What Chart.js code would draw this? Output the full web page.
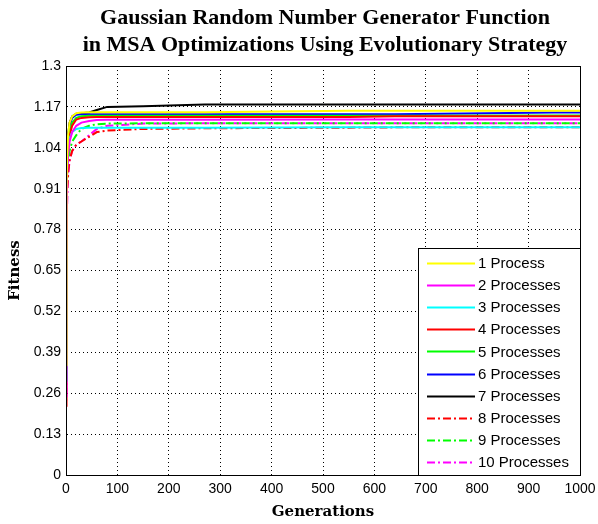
<!DOCTYPE html>
<html>
<head>
<meta charset="utf-8">
<script src="https://cdn.jsdelivr.net/npm/chart.js@4.4.1/dist/chart.umd.min.js"></script>
<style>
  html, body { margin: 0; padding: 0; background: #fff; }
  #wrap { width: 598px; height: 524px; }
</style>
</head>
<body>
<div id="wrap"><canvas id="chart" width="598" height="524"></canvas></div>
<script>
// Data

const gens = [0, 1, 2, 4, 7, 12, 20, 30, 45, 60, 80, 150, 270, 550, 640, 950, 1000];

const fit1  = [0.35, 0.90, 1.00, 1.08, 1.12, 1.14, 1.150, 1.152, 1.153, 1.153, 1.153, 1.153, 1.153, 1.158, 1.158, 1.158, 1.158];
const fit2  = [0.25, 0.70, 0.95, 1.02, 1.06, 1.09, 1.110, 1.120, 1.125, 1.128, 1.129, 1.129, 1.129, 1.130, 1.130, 1.130, 1.130];
const fit3  = [0.30, 0.80, 0.97, 1.04, 1.07, 1.09, 1.100, 1.103, 1.104, 1.104, 1.104, 1.104, 1.104, 1.105, 1.105, 1.105, 1.105];
const fit4  = [0.22, 0.75, 0.95, 1.03, 1.08, 1.11, 1.130, 1.135, 1.137, 1.138, 1.138, 1.138, 1.138, 1.138, 1.140, 1.140, 1.140];
const fit5  = [0.30, 0.85, 0.98, 1.05, 1.09, 1.12, 1.135, 1.140, 1.142, 1.142, 1.142, 1.142, 1.142, 1.142, 1.142, 1.143, 1.143];
const fit6  = [0.35, 0.90, 1.00, 1.07, 1.11, 1.135, 1.145, 1.147, 1.147, 1.147, 1.147, 1.147, 1.147, 1.147, 1.147, 1.152, 1.152];
const fit7  = [0.40, 0.95, 1.02, 1.08, 1.12, 1.14, 1.148, 1.150, 1.152, 1.160, 1.170, 1.172, 1.178, 1.178, 1.178, 1.178, 1.178];
const fit8  = [0.20, 0.60, 0.90, 0.96, 1.00, 1.03, 1.050, 1.060, 1.075, 1.090, 1.095, 1.100, 1.102, 1.104, 1.105, 1.105, 1.105];
const fit9  = [0.25, 0.70, 0.92, 0.99, 1.03, 1.06, 1.080, 1.100, 1.110, 1.115, 1.117, 1.118, 1.118, 1.118, 1.118, 1.118, 1.118];
const fit10 = [0.20, 0.55, 0.85, 0.95, 1.00, 1.03, 1.050, 1.060, 1.080, 1.100, 1.110, 1.117, 1.118, 1.118, 1.118, 1.118, 1.118];

const labels = ["1 Process", "2 Processes", "3 Processes", "4 Processes", "5 Processes",
                "6 Processes", "7 Processes", "8 Processes", "9 Processes", "10 Processes"];

const yTicks = [0, 0.13, 0.26, 0.39, 0.52, 0.65, 0.78, 0.91, 1.04, 1.17, 1.3];
const xTicks = [0, 100, 200, 300, 400, 500, 600, 700, 800, 900, 1000];

const titleLines = ["Gaussian Random Number Generator Function",
                    "in MSA Optimizations Using Evolutionary Strategy"];

const series = [fit1, fit2, fit3, fit4, fit5, fit6, fit7, fit8, fit9, fit10];
const colors = ["#ffff00", "#ff00ff", "#00ffff", "#ff0000", "#00ff00",
                "#0000ff", "#000000", "#ff0000", "#00ff00", "#ff00ff"];
const dashDot = [8, 3, 2, 3];

function toPoints(vals) {
    return vals.map((v, i) => ({ x: gens[i], y: v }));
}

// title centred over the plot, like matlab does
const plotTitle = {
    id: "plotTitle",
    afterDraw(chart) {
        const a = chart.chartArea;
        const ctx = chart.ctx;
        const cx = (a.left + a.right) / 2 + 2;
        ctx.save();
        ctx.fillStyle = "#000";
        ctx.font = "bold 22px 'Liberation Serif', 'Times New Roman', serif";
        ctx.textAlign = "center";
        ctx.textBaseline = "middle";
        ctx.fillText(titleLines[0], cx, 18);
        ctx.fillText(titleLines[1], cx, 45);
        ctx.restore();
    }
};

// draws the box round the plot
const framePlugin = {
    id: "frame",
    afterDatasetsDraw(chart) {
        const a = chart.chartArea;
        const ctx = chart.ctx;
        ctx.save();
        ctx.strokeStyle = "#000";
        ctx.lineWidth = 1;
        ctx.setLineDash([]);
        ctx.strokeRect(Math.round(a.left) + 0.5, Math.round(a.top) + 0.5,
                       Math.round(a.right - a.left), Math.round(a.bottom - a.top));
        ctx.restore();
    }
};

// legend box inside the plot, lower right
const boxLegend = {
    id: "boxLegend",
    afterDraw(chart) {
        const ctx = chart.ctx;
        const a = chart.chartArea;
        const left = 418, top = 248, right = Math.round(a.right), bottom = Math.round(a.bottom);
        ctx.save();
        ctx.fillStyle = "#fff";
        ctx.fillRect(left, top, right - left, bottom - top);
        ctx.strokeStyle = "#000";
        ctx.lineWidth = 1;
        ctx.setLineDash([]);
        ctx.strokeRect(left + 0.5, top + 0.5, right - left, bottom - top);
        ctx.font = "15px 'Liberation Sans', Arial, sans-serif";
        ctx.textBaseline = "middle";
        chart.data.datasets.forEach((ds, i) => {
            const y = 263 + i * 22.1;
            ctx.strokeStyle = ds.borderColor;
            ctx.lineWidth = 2;
            ctx.setLineDash(ds.borderDash || []);
            ctx.beginPath();
            ctx.moveTo(427, Math.round(y) + 0.5);
            ctx.lineTo(475, Math.round(y) + 0.5);
            ctx.stroke();
            ctx.setLineDash([]);
            ctx.fillStyle = "#000";
            ctx.fillText(ds.label, 478, y + 1);
        });
        ctx.restore();
    }
};

const chart = document.querySelector("#chart").getContext("2d");

new Chart(chart, {
    type: "line",
    data: {
        datasets: series.map((vals, i) => ({
            label: labels[i],
            data: toPoints(vals),
            borderColor: colors[i],
            backgroundColor: colors[i],
            borderWidth: 2,
            borderDash: i >= 7 ? dashDot : [],
            pointRadius: 0,
            fill: false,
            tension: 0
        }))
    },
    options: {
        responsive: false,
        animation: false,
        layout: { padding: { left: 0, right: 18, top: 66, bottom: 0 } },
        plugins: {
            legend: { display: false },
            tooltip: { enabled: false },
            title: { display: false }
        },
        scales: {
            x: {
                type: "linear",
                min: 0,
                max: 1000,
                afterBuildTicks: (axis) => { axis.ticks = xTicks.map(v => ({ value: v })); },
                afterFit: (axis) => {
                    axis.height = 49;
                    axis.paddingRight = 0;
                    axis.paddingLeft = 0;
                },
                ticks: {
                    color: "#000",
                    font: { family: "'Liberation Sans', Arial, sans-serif", size: 14 },
                    padding: 6,
                    maxRotation: 0,
                    callback: (v) => String(v)
                },
                grid: { color: "#000", lineWidth: 1, drawTicks: false },
                border: { display: true, color: "#000", dash: [1, 3] },
                title: {
                    display: true,
                    text: "Generations",
                    color: "#000",
                    font: { family: "'DejaVu Serif', serif", size: 15, weight: "bold" },
                    padding: { top: 2, bottom: 3 }
                }
            },
            y: {
                type: "linear",
                min: 0,
                max: 1.3,
                afterBuildTicks: (axis) => { axis.ticks = yTicks.map(v => ({ value: v })); },
                afterFit: (axis) => { axis.width = 66; },
                ticks: {
                    color: "#000",
                    font: { family: "'Liberation Sans', Arial, sans-serif", size: 14 },
                    padding: 5,
                    callback: (v) => String(Math.round(v * 100) / 100)
                },
                grid: { color: "#000", lineWidth: 1, drawTicks: false },
                border: { display: true, color: "#000", dash: [1, 3] },
                title: {
                    display: true,
                    text: "Fitness",
                    color: "#000",
                    font: { family: "'DejaVu Serif', serif", size: 15, weight: "bold" },
                    padding: { top: 6, bottom: 2 }
                }
            }
        }
    },
    plugins: [framePlugin, boxLegend, plotTitle]
});
</script>
</body>
</html>
